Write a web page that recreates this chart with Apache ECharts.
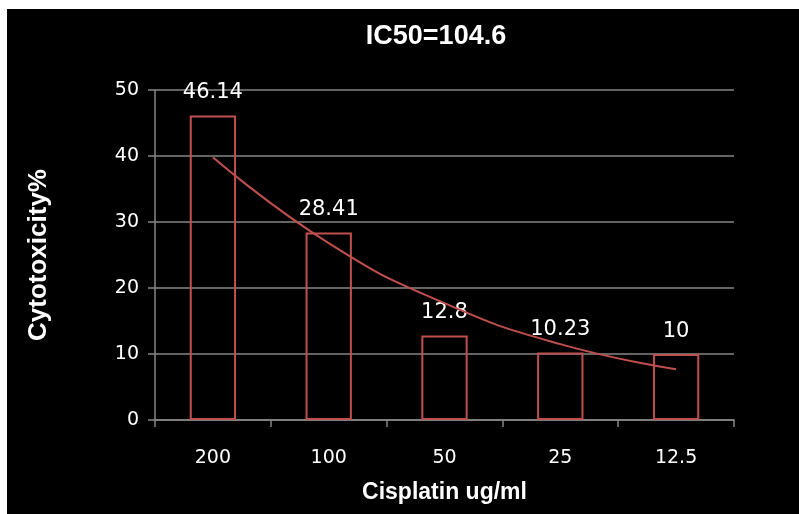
<!DOCTYPE html>
<html>
<head>
<meta charset="utf-8">
<script src="https://cdn.jsdelivr.net/npm/echarts@6/dist/echarts.min.js"></script>
<style>
html,body{margin:0;padding:0;background:#ffffff;width:799px;height:514px;overflow:hidden;}
#chart{position:absolute;left:7px;top:9px;width:792px;height:505px;background:#000000;}
</style>
</head>
<body>
<div id="chart"></div>
<script>
const categories = ['200', '100', '50', '25', '12.5'];
const cytotoxicity = [46.14, 28.41, 12.8, 10.23, 10];
const trendline = [39.8, 26.8, 17.7, 11.5, 7.7];
const yTicks = [0, 10, 20, 30, 40, 50];

const chart = echarts.init(document.getElementById('chart'), null, {renderer: 'canvas'});
const font = 'DejaVu Sans';
const boldFont = 'Liberation Sans';
chart.setOption({
  backgroundColor: '#000000',
  animation: false,
  title: {
    text: 'IC50=104.6',
    left: 424, top: 9, textAlign: 'center',
    textStyle: {color: '#ffffff', fontFamily: boldFont, fontWeight: 'bold', fontSize: 27}
  },
  grid: {left: 148, top: 81, right: 65, bottom: 94},
  xAxis: {
    type: 'category',
    data: categories,
    name: 'Cisplatin ug/ml',
    nameLocation: 'middle',
    nameGap: 61,
    nameTextStyle: {color: '#ffffff', fontFamily: boldFont, fontWeight: 'bold', fontSize: 23},
    axisLine: {lineStyle: {color: '#868686', width: 1.5}},
    axisTick: {show: true, alignWithLabel: false, length: 7, lineStyle: {color: '#868686', width: 1.5}},
    axisLabel: {color: '#ffffff', fontFamily: font, fontSize: 19, margin: 29}
  },
  yAxis: {
    type: 'value',
    min: yTicks[0], max: yTicks[yTicks.length - 1], interval: 10,
    name: 'Cytotoxicity%',
    nameLocation: 'middle',
    nameGap: 103,
    nameTextStyle: {color: '#ffffff', fontFamily: boldFont, fontWeight: 'bold', fontSize: 26},
    axisLine: {show: true, lineStyle: {color: '#868686', width: 1.5}},
    axisTick: {show: true, length: 7, lineStyle: {color: '#868686', width: 1.5}},
    axisLabel: {color: '#ffffff', fontFamily: font, fontSize: 19, margin: 16},
    splitLine: {show: true, lineStyle: {color: '#868686', width: 1.5}}
  },
  series: [
    {
      type: 'bar',
      data: cytotoxicity,
      barWidth: '40%',
      itemStyle: {color: 'rgba(0,0,0,0)', borderColor: '#c0504d', borderWidth: 2},
      label: {show: true, position: 'top', distance: 12, color: '#ffffff', fontFamily: font, fontSize: 21}
    },
    {
      type: 'line',
      data: trendline,
      smooth: true,
      symbol: 'none',
      lineStyle: {color: '#c0504d', width: 2},
      z: 3
    }
  ]
});
</script>
</body>
</html>
